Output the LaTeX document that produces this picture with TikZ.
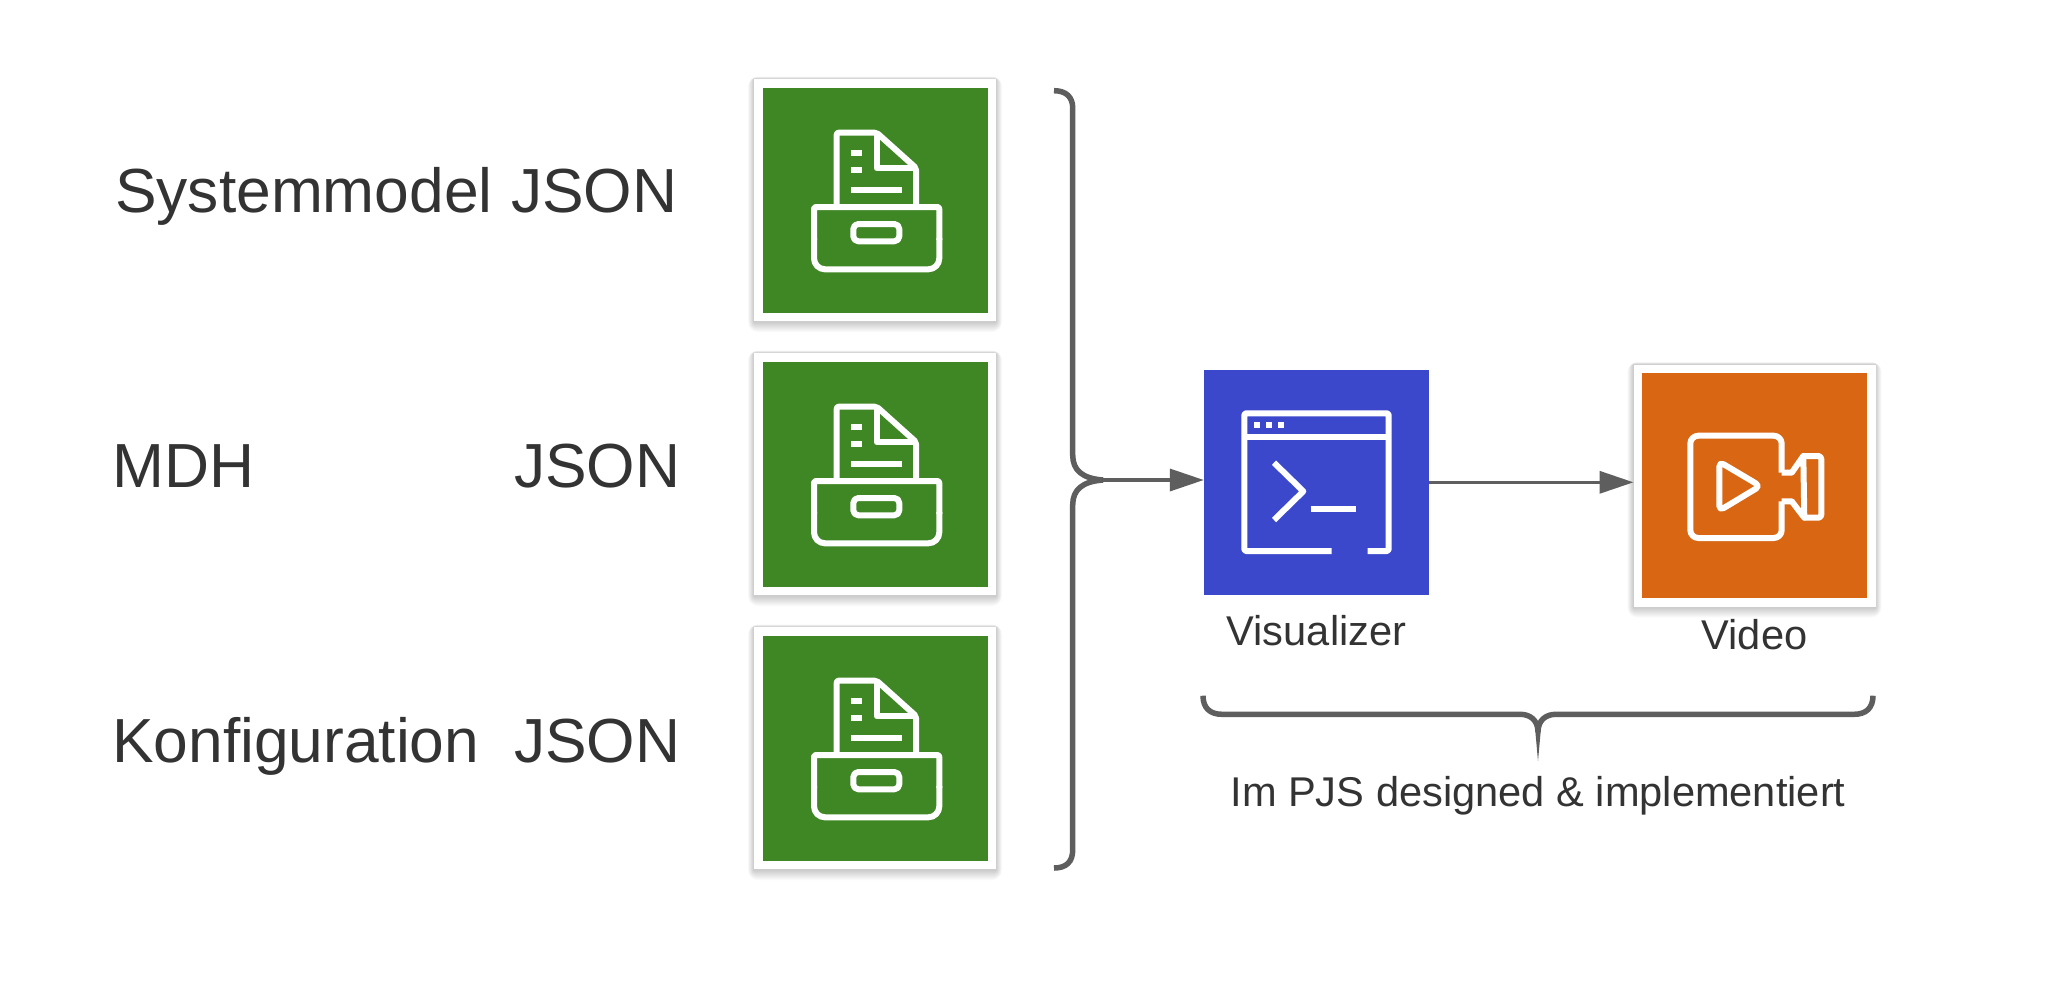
\documentclass[tikz,border=0pt]{standalone}
\usepackage{fontspec}
\setmainfont{Liberation Sans}
\usetikzlibrary{arrows.meta}

\definecolor{txtgray}{HTML}{333333}
\definecolor{linegray}{HTML}{5E5E5E}
\definecolor{storegreen}{HTML}{3F8624}
\definecolor{toolblue}{HTML}{3B48CC}
\definecolor{videoorange}{HTML}{D86613}

\tikzset{
	bigtxt/.style={anchor=base west, inner sep=0pt, text=txtgray, font=\fontsize{62.3}{70}\selectfont},
	smalltxt/.style={anchor=base, inner sep=0pt, text=txtgray, font=\fontsize{41.6}{48}\selectfont},
	tile/.style={minimum size=225pt, inner sep=0pt, fill=#1},
	framed/.style={draw=white, line width=8.5pt, minimum size=233.5pt},
	icon/.style={draw=white, line width=6pt, line join=round},
	bracket/.style={draw=linegray, line width=5.5pt},
	flow/.style={draw=linegray, line width=3.5pt, -{Triangle[length=34pt,width=22pt]}},
	softshadow/.pic={
		\foreach \k in {1,...,10}
			\fill[black, opacity=0.02, rounded corners=\k pt] (-121-\k*0.6,-121-\k*0.25) rectangle (121+\k*0.6,122+\k*1.0);
	},
	drawericon/.pic={
		\draw[icon, rounded corners=2pt] (-38.3,7) -- (-38.3,-67.3) -- (1.7,-67.3) -- (41,-32) -- (41,7);
		\draw[icon] (1.7,-67.3) -- (1.7,-32) -- (41,-32);
		\draw[icon] (-24,-47.3) -- (-12.7,-47.3) (-24,-30) -- (-12.7,-30) (-24,-10.3) -- (27.3,-10.3);
		\draw[icon, rounded corners=2pt] (0,7) -- (64.3,7) -- (64.3,40);
		\draw[icon, rounded corners=2pt] (0,7) -- (-61,7) -- (-61,40);
		\draw[icon, rounded corners=11pt] (-61,38) -- (-61,69.3) -- (64.3,69.3) -- (64.3,38);
		\draw[icon, rounded corners=5pt] (-21.7,24) rectangle (24.3,41.3);
	},
}

\begin{document}
\begin{tikzpicture}[x=1pt,y=-1pt]
	\useasboundingbox (0,0) rectangle (2051,1001);
	\fill[white] (0,0) rectangle (2051,1001);

	% left labels
	\node[bigtxt] (sys) at (115,212.5) {Systemmodel};
	\node[bigtxt] (sysjson) at (511,212.5) {JSON};
	\node[bigtxt] (mdh) at (112,487) {MDH};
	\node[bigtxt] (mdhjson) at (514,487) {JSON};
	\node[bigtxt] (konf) at (112,762) {Konfiguration};
	\node[bigtxt] (konfjson) at (514,762) {JSON};

	% the three stores
	\foreach \name/\cy in {storea/200,storeb/474,storec/748} {
		\pic at (875,\cy) {softshadow};
		\node[tile=storegreen, framed] (\name) at (875,\cy) {};
		\pic at (875,\cy) {drawericon};
	}

	% bracket beside the stores
	\coordinate (bracetip) at (1103,480);
	\path[bracket] (1054,90.7) .. controls (1066,90.7) and (1072.7,97) .. (1072.7,108)
		-- (1072.7,455) .. controls (1072.7,470) and (1082,478.5) .. (bracetip);
	\path[bracket] (1054,868) .. controls (1066,868) and (1072.7,862) .. (1072.7,850)
		-- (1072.7,505) .. controls (1072.7,490) and (1082,481.5) .. (bracetip);

	% visualizer
	\node[tile=toolblue] (vis) at (1316.5,482.3) {};
	\node[smalltxt] (vislabel) at (1316.5,645) {Visualizer};
	\draw[icon, rounded corners=1.5pt] (1331.7,551) -- (1244.3,551) -- (1244.3,413.3) -- (1388.7,413.3) -- (1388.7,551) -- (1367.7,551);
	\draw[icon] (1244.3,437.3) -- (1388.7,437.3);
	\foreach \dotx in {1256.7,1268.7,1280.7}
		\fill[white] (\dotx-3,422.3) rectangle (\dotx+3,428.3);
	\draw[icon] (1274,462.7) -- (1303.3,491.3) -- (1274,520);
	\draw[icon] (1310.7,509) -- (1355.7,509);

	% video
	\pic at (1754.5,485.5) {softshadow};
	\node[tile=videoorange, framed] (video) at (1754.5,485.5) {};
	\node[smalltxt] (videolabel) at (1754.5,649) {Video};
	\draw[icon] (1781.7,472.7) -- (1791.7,472.7) -- (1803.3,456) -- (1804.3,517.7) -- (1791.7,501.3) -- (1781.7,501.3);
	\draw[icon, rounded corners=8pt] (1781.7,472.7) -- (1781.7,435.7) -- (1690.3,435.7) -- (1690.3,538) -- (1781.7,538) -- (1781.7,501.3);
	\draw[icon, rounded corners=3pt] (1803.3,456) -- (1821.3,456) -- (1821.3,517.7) -- (1804.3,517.7);
	\draw[icon, rounded corners=5pt] (1719.3,461.7) -- (1760.3,486) -- (1719.3,510.7) -- cycle;

	% connectors
	\draw[flow] (bracetip) -- (vis.west |- bracetip);
	\draw[flow] (vis.east) -- (video.west |- vis.east);

	% lower bracket
	\coordinate (lowtip) at (1538,761);
	\path[bracket] (1203,695.7) .. controls (1203,708) and (1210,714.3) .. (1222,714.3)
		-- (1520,714.3) .. controls (1530,714.3) and (1538,720) .. (1538,732);
	\path[bracket] (1873,695.7) .. controls (1873,708) and (1866,714.3) .. (1854,714.3)
		-- (1556,714.3) .. controls (1546,714.3) and (1538,720) .. (1538,732);
	\fill[linegray] (1535.2,730) -- (1540.8,730) -- (lowtip) -- cycle;
	\node[smalltxt] (pjs) at (1538,806) {Im PJS designed \& implementiert};
\end{tikzpicture}
\end{document}
